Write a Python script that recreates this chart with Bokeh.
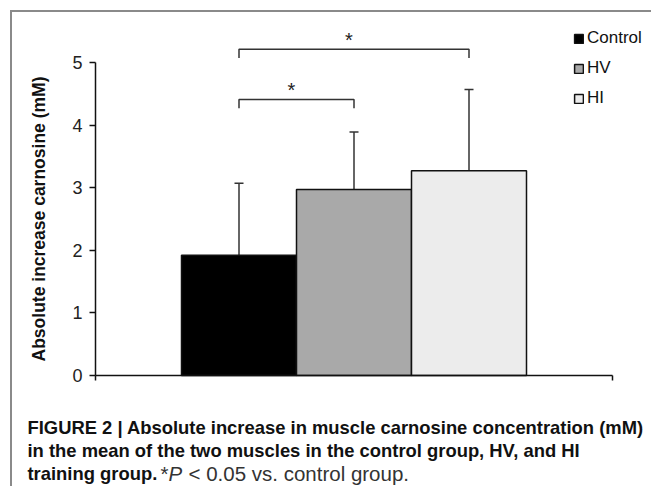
from bokeh.plotting import figure
from bokeh.models import (ColumnDataSource, Range1d, FixedTicker, Legend, LegendItem,
                          Whisker, TeeHead, Label)
from bokeh.core.properties import value
from bokeh.embed import file_html
from bokeh.resources import INLINE

# ---- data ----
groups = ["Control", "HV", "HI"]
means = [1.92, 2.97, 3.27]
sds = [1.15, 0.92, 1.30]
colors = ["#000000", "#a9a9a9", "#ececec"]
y_ticks = [0, 1, 2, 3, 4, 5]
comparisons = [("Control", "HV"), ("Control", "HI")]
bracket_heights = [4.41, 5.21]
sig_marks = ["*", "*"]
y_label = "Absolute increase carnosine (mM)"
caption_1 = "FIGURE 2 | Absolute increase in muscle carnosine concentration (mM)"
caption_2 = "in the mean of the two muscles in the control group, HV, and HI"
caption_3a = "training group."
caption_3b = "*"
caption_3c = "P"
caption_3d = "< 0.05 vs. control group."

FONT = "Liberation Sans"
W, H = 641, 476

xpos = [i - (len(groups) - 1) / 2 for i in range(len(groups))]
upper = [m + s for m, s in zip(means, sds)]
src = ColumnDataSource(dict(x=xpos, top=means, upper=upper, color=colors, name=groups))

half = 2.248          # half-width of the category axis (in bar widths)
px_x, px_y = 115.0, 62.6
cx, y0 = 341.5, 363.0  # pixel position of the group centre / of y = 0 inside the canvas
p = figure(width=W, height=H, output_backend="svg", toolbar_location=None,
           x_range=Range1d(-cx / px_x, (W - cx) / px_x),
           y_range=Range1d(-(H - y0) / px_y, y0 / px_y),
           min_border_left=0, min_border_right=0, min_border_top=0, min_border_bottom=0)
p.styles = {"border-top": "2px solid #8a8a8a", "border-left": "2px solid #8a8a8a",
            "margin-left": "10px", "margin-top": "10px"}
p.outline_line_color = None
p.grid.grid_line_color = None
p.background_fill_color = "white"

bars = p.vbar(x="x", top="top", width=1.0, bottom=0, source=src, fill_color="color",
              line_color="#111111", line_width=1.5)

w = Whisker(base="x", upper="upper", lower="top", source=src, line_color="#333333",
            line_width=1.5, lower_head=None,
            upper_head=TeeHead(size=9, line_color="#333333", line_width=1.5))
p.add_layout(w)

# significance brackets
xi = {g: x for g, x in zip(groups, xpos)}
drop = 0.14
bx, by, sx, sy = [], [], [], []
for (a, b), h in zip(comparisons, bracket_heights):
    bx.append([xi[a], xi[a], xi[b], xi[b]])
    by.append([h - drop, h, h, h - drop])
    sx.append((xi[a] + xi[b]) / 2)
    sy.append(h)
p.multi_line(xs=bx, ys=by, line_color="#333333", line_width=1.5)
p.text(x=sx, y=sy, text=sig_marks, text_align="center", text_baseline="alphabetic",
       text_font=value(FONT), text_font_size="20px", text_color="#222222",
       x_offset=-5, y_offset=-9)

# axes (drawn at fixed data locations inside the canvas)
yax = p.yaxis[0]
yax.fixed_location = -half
yax.ticker = FixedTicker(ticks=y_ticks)
yax.bounds = (0, 5)
yax.axis_line_width = 1.5
yax.axis_line_color = "#111111"
yax.major_tick_in = 0
yax.major_tick_out = 6
yax.major_tick_line_width = 1.5
yax.major_tick_line_color = "#111111"
yax.minor_tick_line_color = None
yax.major_label_text_font = FONT
yax.major_label_text_font_size = "18px"
yax.major_label_text_color = "#222222"
yax.major_label_standoff = 7
yax.axis_label = y_label
yax.axis_label_text_font = FONT
yax.axis_label_text_font_style = "bold"
yax.axis_label_text_font_size = "17.5px"
yax.axis_label_text_color = "#111111"
yax.axis_label_standoff = 20

xax = p.xaxis[0]
xax.fixed_location = 0
xax.ticker = FixedTicker(ticks=[-half, half])
xax.bounds = (-half, half)
xax.axis_line_width = 1.5
xax.axis_line_color = "#111111"
xax.major_tick_in = 0
xax.major_tick_out = 5
xax.major_tick_line_width = 1.5
xax.major_tick_line_color = "#111111"
xax.minor_tick_line_color = None
xax.major_label_text_font_size = "0px"

# legend
items = [LegendItem(label=g, renderers=[bars], index=i) for i, g in enumerate(groups)]
leg = Legend(items=items, location=(561, 380), glyph_width=11, glyph_height=11,
             label_standoff=3, spacing=10, padding=0, margin=0,
             border_line_alpha=0, background_fill_alpha=0,
             label_text_font=FONT, label_text_font_size="17px", label_text_color="#111111")
p.add_layout(leg, "center")

# caption
cap_kw = dict(x_units="screen", y_units="screen", text_font=FONT, text_font_size="18.4px",
              text_color="#111111", text_baseline="alphabetic")
p.add_layout(Label(x=15, y=61, text=caption_1, text_font_style="bold", **cap_kw))
p.add_layout(Label(x=15, y=38, text=caption_2, text_font_style="bold", **cap_kw))
p.add_layout(Label(x=15, y=15, text=caption_3a, text_font_style="bold", **cap_kw))
reg_kw = dict(cap_kw, text_color="#333333", text_font_size="20.5px")
p.add_layout(Label(x=148, y=15, text=caption_3b, **reg_kw))
p.add_layout(Label(x=156, y=15, text=caption_3c, text_font_style="italic", **reg_kw))
p.add_layout(Label(x=176, y=15, text=caption_3d, **reg_kw))

open("out.html", "w").write(file_html(p, INLINE))
